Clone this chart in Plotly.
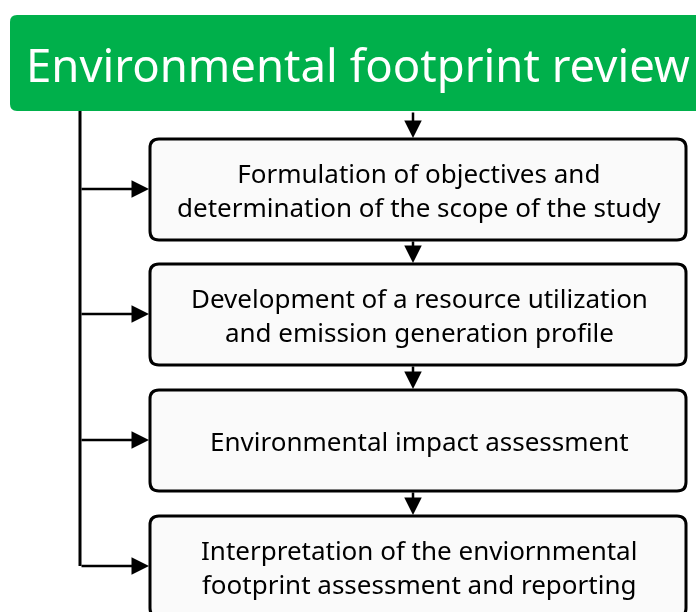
import plotly.graph_objects as go

W, H = 696, 612

title = "Environmental footprint review"
steps = [
    "Formulation of objectives and<br>determination of the scope of the study",
    "Development of a resource utilization<br>and emission generation profile",
    "Environmental impact assessment",
    "Interpretation of the enviornmental<br>footprint assessment and reporting",
]

green = "#00b04b"
box_fill = "#fafafa"
font = "Noto Sans"

# layout in pixel coordinates (y grows downward)
head_x0, head_x1, head_y0, head_y1 = 10, 720, 15, 111
box_x0, box_x1 = 150, 686
box_top = [139, 264, 390, 516]
box_h = 101
spine_x = 80
center_x = 413


def rounded_rect(x0, y0, x1, y1, r):
    return (f"M{x0+r},{y0} L{x1-r},{y0} Q{x1},{y0} {x1},{y0+r} "
            f"L{x1},{y1-r} Q{x1},{y1} {x1-r},{y1} L{x0+r},{y1} "
            f"Q{x0},{y1} {x0},{y1-r} L{x0},{y0+r} Q{x0},{y0} {x0+r},{y0} Z")


fig = go.Figure()
fig.add_trace(go.Scatter(x=[0, W], y=[0, H], mode="markers", opacity=0, hoverinfo="skip"))

shapes = []
annotations = []

# header
shapes.append(dict(type="path", path=rounded_rect(head_x0, head_y0, head_x1, head_y1, 7),
                   fillcolor=green, line=dict(width=0), layer="below"))
annotations.append(dict(x=24, y=(head_y0 + head_y1) / 2 + 1, text=title, showarrow=False,
                        xanchor="left", yanchor="middle",
                        font=dict(family=font, size=45.5, color="white")))

# spine on the left
last_mid = box_top[-1] + 50
shapes.append(dict(type="line", x0=spine_x, x1=spine_x, y0=head_y1, y1=last_mid,
                   line=dict(color="black", width=3)))

prev_bottom = head_y1
for label, top in zip(steps, box_top):
    bottom = top + box_h
    mid = top + 50
    shapes.append(dict(type="path", path=rounded_rect(box_x0, top, box_x1, bottom, 9),
                       fillcolor=box_fill, line=dict(color="black", width=3)))
    annotations.append(dict(x=(box_x0 + box_x1) / 2 + 1, y=mid + 1, text=label, showarrow=False,
                            xanchor="center", yanchor="middle", align="center",
                            font=dict(family=font, size=26, color="black")))
    # side arrow
    annotations.append(dict(x=box_x0 - 1, y=mid, ax=spine_x, ay=mid, xref="x", yref="y",
                            axref="x", ayref="y", text="", showarrow=True,
                            arrowhead=2, arrowsize=1.4, arrowwidth=2.5, arrowcolor="black"))
    # down arrow
    annotations.append(dict(x=center_x, y=top - 1, ax=center_x, ay=prev_bottom, xref="x", yref="y",
                            axref="x", ayref="y", text="", showarrow=True,
                            arrowhead=2, arrowsize=1.4, arrowwidth=2.5, arrowcolor="black"))
    prev_bottom = bottom

fig.update_layout(
    width=W, height=H,
    margin=dict(l=0, r=0, t=0, b=0),
    paper_bgcolor="white", plot_bgcolor="white",
    showlegend=False,
    shapes=shapes, annotations=annotations,
)
fig.update_xaxes(range=[0, W], visible=False, fixedrange=True)
fig.update_yaxes(range=[H, 0], visible=False, fixedrange=True)

fig.write_html("out.html", config={"displayModeBar": False},
               post_script="document.body.style.margin='0';")
